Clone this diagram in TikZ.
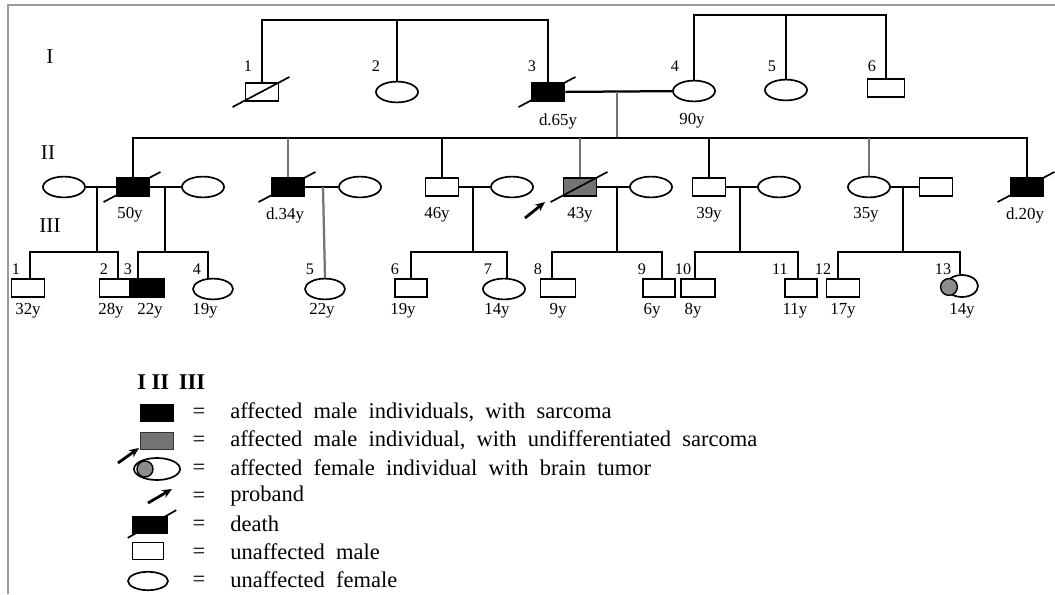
\documentclass[tikz,border=0pt]{standalone}
\usepackage{fontspec}
\setmainfont{Liberation Serif}
\newfontfamily\legendfont[WordSpace=2.0]{Liberation Serif}
\usepackage{tikz}
\usetikzlibrary{shapes.geometric}
\usetikzlibrary{positioning}
\usetikzlibrary{calc}
\usetikzlibrary{arrows.meta}
\tikzset{
    male/.style = {rectangle, draw=black, line width=1.2pt, minimum width=0.83cm, minimum height=0.46cm, inner sep=0pt},
    female/.style = {ellipse, draw=black, line width=1.2pt, minimum width=1.05cm, minimum height=0.52cm, inner sep=0pt},
    sick/.style = {fill=black},
    sickg/.style = {fill=black!55},
    famline/.style = {line width=1.6pt, black},
    famlineg/.style = {line width=1.6pt, black!55},
    dead/.style = {line width=1.2pt},
    num/.style = {font=\fontsize{11.5}{12}\selectfont, inner sep=0pt},
    age/.style = {font=\fontsize{12}{13}\selectfont, inner sep=0pt},
    gen/.style = {font=\fontsize{15}{16}\selectfont, inner sep=0pt},
    legtext/.style = {font=\legendfont\fontsize{16}{17}\selectfont, anchor=west, inner sep=0pt},
    legeq/.style = {font=\fontsize{16}{17}\selectfont, inner sep=0pt},
    proband/.style = {line width=2pt, -{Stealth[length=7pt,width=6pt]}},
}
\newcommand{\deadmark}[1]{\draw[dead] ($(#1.south west)+(-12,5)$) -- ($(#1.north east)+(10,-5)$);}

\begin{document}
\begin{tikzpicture}[x=0.025cm, y=-0.025cm]
\useasboundingbox (0,0) rectangle (1055,594);
% frame
\draw[black!40, line width=1.5pt] (8,594) -- (8,5) -- (1055,5);
% generations
\node[gen] (g1) at (50,57) {I};
\node[gen] (g2) at (48,153) {II};
\node[gen] (g3) at (50,226) {III};
%
% generation I
\node[male] at (262,92) (i1) {};
\node[female] at (397,92) (i2) {};
\node[male,sick] at (548,92) (i3) {};
\node[female] at (694,91) (i4) {};
\node[female] at (786,90) (i5) {};
\node[male,minimum width=0.92cm] at (886,88) (i6) {};
\deadmark{i1}
\deadmark{i3}
\node[num] at (248,66) (n11) {1};
\node[num] at (376,66) (n12) {2};
\node[num] at (532,66) (n13) {3};
\node[num] at (675,66) (n14) {4};
\node[num] at (772,66) (n15) {5};
\node[num] at (872,66) (n16) {6};
\node[age] at (558,121) (a13) {d.65y};
\node[age] at (692,121) (a14) {90y};
\coordinate (t1) at (397,20);
\coordinate (t2) at (786,15);
\draw[famline] (i1.north) |- (t1) -| (i3.north);
\draw[famline] (t1) -- (i2.north);
\draw[famline] (i4.north) |- (t2) -| (i6.north);
\draw[famline] (t2) -- (i5.north);
\draw[famline] (i3) -- (i4);
\coordinate (m1) at (617,92);
\coordinate (s2) at (617,138);
\draw[famlineg] (m1) -- (s2);
%
% generation II
\node[female] at (64,187) (ii1) {};
\node[male,sick] at (133,187) (ii2) {};
\node[female] at (203,187) (ii3) {};
\node[male,sick] at (288,187) (ii4) {};
\node[female] at (360,187) (ii5) {};
\node[male] at (442,187) (ii6) {};
\node[female] at (512,187) (ii7) {};
\node[male,sickg] at (580,187) (ii8) {};
\node[female] at (651,187) (ii9) {};
\node[male] at (709,187) (ii10) {};
\node[female] at (779,187) (ii11) {};
\node[female] at (869,187) (ii12) {};
\node[male] at (936,187) (ii13) {};
\node[male,sick] at (1027,187) (ii14) {};
\deadmark{ii2}
\deadmark{ii4}
\deadmark{ii8}
\deadmark{ii14}
\coordinate (pb1) at (525,218);
\coordinate (pb2) at (545,202);
\draw[proband] (pb1) -- (pb2);
\node[age] at (130,215) (a22) {50y};
\node[age] at (285,215) (a24) {d.34y};
\node[age] at (437,215) (a26) {46y};
\node[age] at (580,215) (a28) {43y};
\node[age] at (709,215) (a210) {39y};
\node[age] at (866,215) (a212) {35y};
\node[age] at (1025,215) (a214) {d.20y};
\draw[famline] (ii2.north) |- (s2) -| (ii14.north);
\draw[famlineg] (ii4.north) -- (ii4.north |- s2);
\draw[famline] (ii6.north) -- (ii6.north |- s2);
\draw[famlineg] (ii8.north) -- (ii8.north |- s2);
\draw[famline] (ii10.north) -- (ii10.north |- s2);
\draw[famlineg] (ii12.north) -- (ii12.north |- s2);
%
\draw[famline] (ii1) -- (ii2);
\draw[famline] (ii2) -- (ii3);
\draw[famline] (ii4) -- (ii5);
\draw[famline] (ii6) -- (ii7);
\draw[famline] (ii8) -- (ii9);
\draw[famline] (ii10) -- (ii11);
\draw[famline] (ii12) -- (ii13);
%
% generation III
\node[male] at (28,288) (iii1) {};
\node[male,minimum width=0.78cm] at (115,288) (iii2) {};
\node[male,sick,minimum width=0.85cm] at (147,288) (iii3) {};
\node[female,minimum width=1.0cm] at (213,289) (iii4) {};
\node[female,minimum width=1.0cm] at (325,289) (iii5) {};
\node[male,minimum width=0.8cm] at (411,288) (iii6) {};
\node[female] at (504,289) (iii7) {};
\node[male,minimum width=0.87cm] at (558,288) (iii8) {};
\node[male,minimum width=0.8cm] at (659,288) (iii9) {};
\node[male,minimum width=0.85cm] at (698,288) (iii10) {};
\node[male,minimum width=0.8cm] at (801,288) (iii11) {};
\node[male] at (843,288) (iii12) {};
\node[female,minimum width=0.8cm,minimum height=0.55cm] at (962,286) (iii13) {};
\node[circle,draw=black,line width=1pt,fill=black!45,minimum size=0.42cm,inner sep=0pt] at (949,287) (iii13t) {};
%
\node[num] at (16,269) (n31) {1};
\node[num] at (104,269) (n32) {2};
\node[num] at (128,269) (n33) {3};
\node[num] at (197,269) (n34) {4};
\node[num] at (310,269) (n35) {5};
\node[num] at (395,269) (n36) {6};
\node[num] at (488,269) (n37) {7};
\node[num] at (538,269) (n38) {8};
\node[num] at (642,269) (n39) {9};
\node[num] at (683,269) (n310) {10};
\node[num] at (780,269) (n311) {11};
\node[num] at (823,269) (n312) {12};
\node[num] at (943,269) (n313) {13};
%
\node[age] at (28,311) (a31) {32y};
\node[age] at (111,311) (a32) {28y};
\node[age] at (150,311) (a33) {22y};
\node[age] at (205,311) (a34) {19y};
\node[age] at (322,311) (a35) {22y};
\node[age] at (403,311) (a36) {19y};
\node[age] at (497,311) (a37) {14y};
\node[age] at (558,311) (a38) {9y};
\node[age] at (652,311) (a39) {6y};
\node[age] at (693,311) (a310) {8y};
\node[age] at (795,311) (a311) {11y};
\node[age] at (843,311) (a312) {17y};
\node[age] at (962,311) (a313) {14y};
%
\coordinate (m21) at (97,187);
\coordinate (c21) at (97,252);
\coordinate (m22) at (165,187);
\coordinate (c22) at (165,252);
\coordinate (m23) at (323,187);
\coordinate (m24) at (473,187);
\coordinate (c24) at (473,252);
\coordinate (m25) at (617,187);
\coordinate (c25) at (617,252);
\coordinate (m26) at (740,187);
\coordinate (c26) at (740,252);
\coordinate (m27) at (903,187);
\coordinate (c27) at (903,252);
\draw[famline] (m21) -- (c21);
\draw[famline] (m22) -- (c22);
\draw[famlineg] (m23) -- (iii5.north);
\draw[famline] (m24) -- (c24);
\draw[famline] (m25) -- (c25);
\draw[famline] (m26) -- (c26);
\draw[famline] (m27) -- (c27);
\draw[famline] ($(iii1.north)+(2,0)$) |- (c21) -| ($(iii2.north)+(3,0)$);
\draw[famline] ($(iii3.north)+(-9,0)$) |- (c22) -| ($(iii4.north)+(-5,0)$);
\draw[famline] (iii6.north) |- (c24) -| ($(iii7.north)+(3,0)$);
\draw[famline] ($(iii8.north)+(-6,0)$) |- (c25) -| ($(iii9.north)+(3,0)$);
\draw[famline] ($(iii10.north)+(-3,0)$) |- (c26) -| ($(iii11.north)+(-3,0)$);
\draw[famline] ($(iii12.north)+(-5,0)$) |- (c27) -| ($(iii13.north)+(-2,0)$);
%
% legend
\node[anchor=west, inner sep=0pt, font=\fontsize{16}{17}\selectfont\bfseries] at (137,382) (lgh) {I\hspace{4pt}II\hspace{7pt}III};
\node[male,sick,minimum width=0.82cm,minimum height=0.42cm] at (157,413) (lg1) {};
\node[male,sickg,draw=black!80,minimum width=0.82cm,minimum height=0.42cm] at (157,441) (lg2) {};
\node[female,minimum width=1.15cm,minimum height=0.55cm] at (157,469) (lg3) {};
\node[circle,draw=black,line width=1pt,fill=black!45,minimum size=0.4cm,inner sep=0pt] at (145,469) (lg3t) {};
\coordinate (lpa1) at (118,463);
\coordinate (lpa2) at (139,448);
\draw[proband] (lpa1) -- (lpa2);
\coordinate (lpb1) at (148,503);
\coordinate (lpb2) at (172,489);
\draw[proband] (lpb1) -- (lpb2);
\node[male,sick,minimum width=0.87cm,minimum height=0.4cm] at (150,525) (lg5) {};
\draw[dead] ($(lg5.south west)+(-4,4)$) -- ($(lg5.north east)+(8,-6)$);
\node[male,minimum width=0.78cm,minimum height=0.42cm] at (148,551) (lg6) {};
\node[female,minimum width=1.0cm,minimum height=0.46cm] at (148,581) (lg7) {};
%
\node[legeq] at (199,413) (e1) {=};
\node[legeq] at (199,441) (e2) {=};
\node[legeq] at (199,469) (e3) {=};
\node[legeq] at (199,497) (e4) {=};
\node[legeq] at (199,525) (e5) {=};
\node[legeq] at (199,553) (e6) {=};
\node[legeq] at (199,581) (e7) {=};
\node[legtext] at (230,412) (t1) {affected male individuals, with sarcoma};
\node[legtext] at (230,440) (t2) {affected male individual, with undifferentiated sarcoma};
\node[legtext] at (230,468) (t3) {affected female individual with brain tumor};
\node[legtext] at (230,496) (t4) {proband};
\node[legtext] at (230,524) (t5) {death};
\node[legtext] at (230,552) (t6) {unaffected male};
\node[legtext] at (230,580) (t7) {unaffected female};
\end{tikzpicture}
\end{document}
